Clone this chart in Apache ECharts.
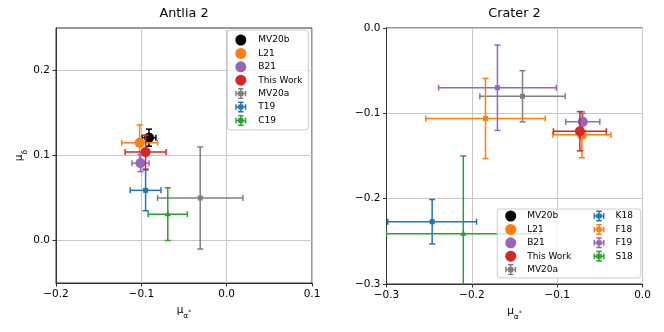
<!DOCTYPE html>
<html>
<head>
<meta charset="utf-8">
<script src="https://cdn.jsdelivr.net/npm/echarts@6/dist/echarts.min.js"></script>
<style>
  html, body { margin: 0; padding: 0; background: #fff; }
  #chart { width: 664px; height: 332px; }
</style>
</head>
<body>
<div id="chart"></div>
<script>
// Antlia 2 (left panel)
const antliaNames = ['MV20b', 'L21', 'B21', 'This Work', 'MV20a', 'T19', 'C19']
const antliaX    = [-0.091, -0.102, -0.101, -0.095, -0.031, -0.095, -0.069]
const antliaY    = [0.121, 0.115, 0.091, 0.104, 0.050, 0.059, 0.031]
const antliaXErr = [0.008, 0.021, 0.010, 0.024, 0.050, 0.018, 0.023]
const antliaYErr = [0.010, 0.021, 0.010, 0.020, 0.060, 0.024, 0.031]
const antliaYTicks = [0.0, 0.1, 0.2]

// Crater 2 (right panel), MV20b has no point here
const craterNames = ['MV20b', 'L21', 'B21', 'This Work', 'MV20a', 'K18', 'F18', 'F19', 'S18']
const craterX    = [null, -0.071, -0.070, -0.0734, -0.1406, -0.2465, -0.184, -0.170, -0.210]
const craterY    = [null, -0.125, -0.110, -0.121, -0.080, -0.227, -0.106, -0.070, -0.241]
const craterXErr = [null, 0.034, 0.020, 0.031, 0.050, 0.052, 0.070, 0.069, 0.090]
const craterYErr = [null, 0.027, 0.010, 0.023, 0.030, 0.026, 0.047, 0.050, 0.091]

// colours and marker kind per dataset
const styles = {
  'MV20b': { color: '#000000', kind: 'big' },
  'L21': { color: '#ff7f0e', kind: 'big' },
  'B21': { color: '#9467bd', kind: 'big' },
  'This Work': { color: '#d62728', kind: 'big' },
  'MV20a': { color: '#7f7f7f', kind: 'square' },
  'T19': { color: '#1f77b4', kind: 'square' },
  'C19': { color: '#2ca02c', kind: 'triangle' },
  'K18': { color: '#1f77b4', kind: 'square' },
  'F18': { color: '#ff7f0e', kind: 'square' },
  'F19': { color: '#9467bd', kind: 'square' },
  'S18': { color: '#2ca02c', kind: 'triangle' }
}

const FONT = 'DejaVu Sans'
const errIcon = 'path://M0,5.2h12v1.6h-12zM5.2,0h1.6v12h-1.6zM0,3h1.6v6h-1.6zM10.4,3h1.6v6h-1.6zM3,0h6v1.6h-6zM3,10.4h6v1.6h-6zM3.2,3.2h5.6v5.6h-5.6z'

function tickFmt (v) {
  if (Math.abs(v) < 1e-9) return '0.0'
  return v.toFixed(1).replace('-', '\u2212')
}

function makeRender (kind, color) {
  return function (params, api) {
    const x = api.value(0), y = api.value(1), xe = api.value(2), ye = api.value(3)
    const c = api.coord([x, y])
    const l = api.coord([x - xe, y]), r = api.coord([x + xe, y])
    const t = api.coord([x, y + ye]), b = api.coord([x, y - ye])
    const cap = 3
    const ls = { stroke: color, lineWidth: 1.5 }
    const kids = [
      { type: 'line', shape: { x1: l[0], y1: c[1], x2: r[0], y2: c[1] }, style: ls },
      { type: 'line', shape: { x1: c[0], y1: t[1], x2: c[0], y2: b[1] }, style: ls },
      { type: 'line', shape: { x1: l[0], y1: c[1] - cap, x2: l[0], y2: c[1] + cap }, style: ls },
      { type: 'line', shape: { x1: r[0], y1: c[1] - cap, x2: r[0], y2: c[1] + cap }, style: ls },
      { type: 'line', shape: { x1: c[0] - cap, y1: t[1], x2: c[0] + cap, y2: t[1] }, style: ls },
      { type: 'line', shape: { x1: c[0] - cap, y1: b[1], x2: c[0] + cap, y2: b[1] }, style: ls }
    ]
    if (kind === 'big') {
      kids.push({ type: 'circle', shape: { cx: c[0], cy: c[1], r: 5 }, style: { fill: color } })
    } else if (kind === 'square') {
      kids.push({ type: 'rect', shape: { x: c[0] - 2.5, y: c[1] - 2.5, width: 5, height: 5 }, style: { fill: color } })
    } else {
      kids.push({ type: 'polygon', shape: { points: [[c[0], c[1] - 3.5], [c[0] - 3.2, c[1] + 2.2], [c[0] + 3.2, c[1] + 2.2]] }, style: { fill: color } })
    }
    return { type: 'group', children: kids }
  }
}

function buildSeries (names, xs, ys, xes, yes, idx) {
  // small markers first, big circles on top (MV20b last)
  const small = [], big = []
  names.forEach((n, i) => {
    const st = styles[n]
    const s = {
      type: 'custom',
      name: n,
      xAxisIndex: idx,
      yAxisIndex: idx,
      clip: true,
      silent: true,
      itemStyle: { color: st.color },
      encode: { x: 0, y: 1 },
      data: xs[i] == null ? [] : [[xs[i], ys[i], xes[i], yes[i]]],
      renderItem: makeRender(st.kind, st.color)
    }
    if (st.kind === 'big') big.push(s); else small.push(s)
  })
  return small.concat(big)
}

function legendData (names) {
  return names.map(n => ({
    name: n,
    icon: styles[n].kind === 'big' ? 'circle' : errIcon,
    itemStyle: { color: styles[n].color }
  }))
}

function axisCommon () {
  return {
    axisLine: { show: true, onZero: false, lineStyle: { color: '#333', width: 1 } },
    axisTick: { show: true, inside: false, length: 3.5, lineStyle: { color: '#333', width: 1 } },
    axisLabel: { color: '#000', fontFamily: FONT, fontSize: 10.5, margin: 6, formatter: tickFmt },
    splitLine: { show: true, lineStyle: { color: '#c8c8c8', width: 1 } }
  }
}

const xName = '{m|\u03bc}{s|\u03b1}{t|*}'
const nameRich = {
  m: { fontFamily: FONT, fontSize: 10.5, color: '#000', lineHeight: 13, verticalAlign: 'top' },
  s: { fontFamily: FONT, fontSize: 7.5, color: '#000', lineHeight: 9, padding: [7, 0, 0, 0], verticalAlign: 'top' },
  t: { fontFamily: FONT, fontSize: 6, color: '#000', lineHeight: 7, padding: [5, 0, 0, 0], verticalAlign: 'top' }
}

const chart = echarts.init(document.getElementById('chart'))

const legendText = { fontFamily: FONT, fontSize: 9, color: '#000', padding: [0, 0, 0, 7] }

chart.setOption({
  animation: false,
  grid: [
    { left: 56, top: 28, width: 256, height: 255, show: true, borderColor: '#333', borderWidth: 1 },
    { left: 386.5, top: 28, width: 256, height: 256, show: true, borderColor: '#333', borderWidth: 1 }
  ],
  xAxis: [
    Object.assign(axisCommon(), {
      gridIndex: 0, type: 'value', min: -0.2, max: 0.1, interval: 0.1,
      name: xName, nameLocation: 'middle', nameGap: 20,
      nameTextStyle: { rich: nameRich }
    }),
    Object.assign(axisCommon(), {
      gridIndex: 1, type: 'value', min: -0.3, max: 0.0, interval: 0.1,
      name: xName, nameLocation: 'middle', nameGap: 20,
      nameTextStyle: { rich: nameRich }
    })
  ],
  yAxis: [
    (function () {
      const a = axisCommon()
      a.axisLabel.customValues = antliaYTicks
      a.axisTick.customValues = antliaYTicks
      return Object.assign(a, {
        gridIndex: 0, type: 'value', min: -0.05, max: 0.25,
        name: '{m|\u03bc}{s|\u03b4}', nameLocation: 'middle', nameGap: 29, nameRotate: 90,
        nameTextStyle: { rich: nameRich }
      })
    })(),
    Object.assign(axisCommon(), {
      gridIndex: 1, type: 'value', min: -0.3, max: 0.0, interval: 0.1
    })
  ],
  legend: [
    {
      data: legendData(antliaNames),
      orient: 'vertical', left: 227.3, top: 30,
      padding: [4.5, 6, 4, 8], itemWidth: 11, itemHeight: 11, itemGap: 2.4,
      selectedMode: false,
      backgroundColor: 'rgba(255,255,255,0.8)', borderColor: '#cccccc', borderWidth: 1, borderRadius: 3,
      textStyle: legendText
    },
    {
      data: legendData(craterNames.slice(0, 5)),
      orient: 'vertical', left: 505.2, top: 210.5, padding: 0,
      itemWidth: 11, itemHeight: 11, itemGap: 2.4, selectedMode: false,
      textStyle: Object.assign({}, legendText, { padding: [0, 0, 0, 6] })
    },
    {
      data: legendData(craterNames.slice(5)),
      orient: 'vertical', left: 593.5, top: 210.5, padding: 0,
      itemWidth: 11, itemHeight: 11, itemGap: 2.4, selectedMode: false,
      textStyle: Object.assign({}, legendText, { padding: [0, 0, 0, 6] })
    }
  ],
  graphic: [
    { type: 'rect', z: 3, shape: { x: 497.3, y: 209, width: 143.5, height: 69, r: 3 },
      style: { fill: 'rgba(255,255,255,0.8)', stroke: '#cccccc', lineWidth: 1 } },
    { type: 'text', x: 184, y: 7, style: { text: 'Antlia 2', font: '12.8px "DejaVu Sans"', fill: '#000', align: 'center' } },
    { type: 'text', x: 514.5, y: 7, style: { text: 'Crater 2', font: '12.8px "DejaVu Sans"', fill: '#000', align: 'center' } }
  ],
  series: buildSeries(antliaNames, antliaX, antliaY, antliaXErr, antliaYErr, 0)
    .concat(buildSeries(craterNames, craterX, craterY, craterXErr, craterYErr, 1))
})
</script>
</body>
</html>
